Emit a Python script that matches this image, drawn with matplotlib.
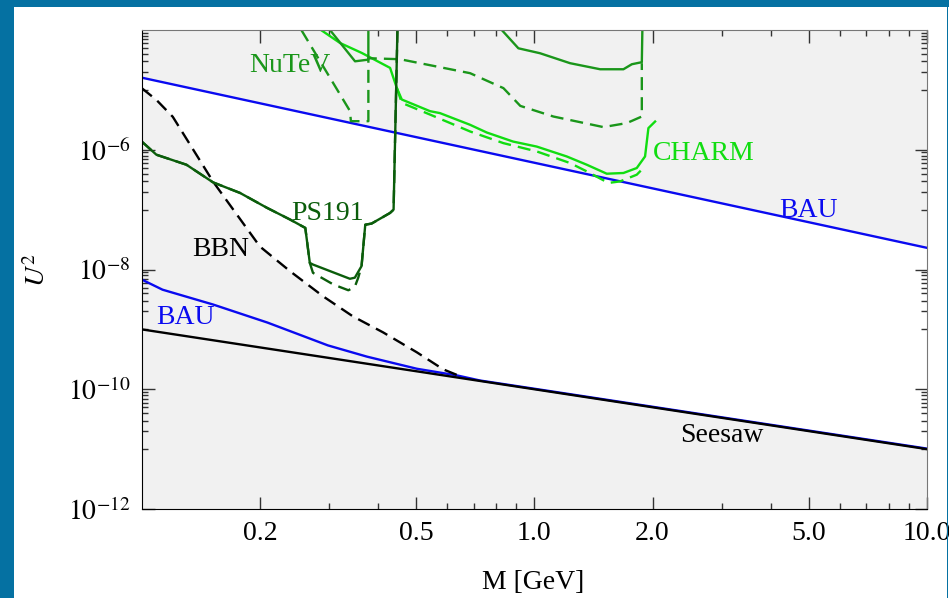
import numpy as np
import matplotlib.pyplot as plt
from matplotlib.patches import Rectangle
from matplotlib.ticker import NullFormatter

plt.rcParams['font.family'] = ['Liberation Serif', 'DejaVu Serif']
plt.rcParams['mathtext.fontset'] = 'stix'
plt.rcParams['font.size'] = 20

# --- data (M in GeV, U^2) ---
bau_up_m = [0.1, 10.0]
bau_up_u2 = [1.6e-5, 2.3e-8]

seesaw_m = [0.1, 10.0]
seesaw_u2 = [1e-9, 1e-11]

bau_low_m = [0.1, 0.113, 0.152, 0.209, 0.298, 0.375, 0.502, 0.636, 0.727, 1.0, 10.0]
bau_low_u2 = [6.8e-9, 4.6e-9, 2.6e-9, 1.3e-9, 5.4e-10, 3.5e-10, 2.2e-10, 1.7e-10,
              1.4e-10, 1.02e-10, 1.02e-11]

bbn_m = [0.1, 0.109, 0.120, 0.152, 0.200, 0.239, 0.290, 0.345, 0.412, 0.502, 0.586, 0.647]
bbn_u2 = [1.07e-5, 6.8e-6, 3.55e-6, 2.93e-7, 2.42e-8, 9.3e-9, 3.55e-9, 1.65e-9,
          8.9e-10, 4.14e-10, 2.15e-10, 1.65e-10]

ps191_m = [0.100, 0.109, 0.130, 0.152, 0.178, 0.208, 0.239, 0.261, 0.268, 0.273,
           0.339, 0.349, 0.363, 0.371, 0.385, 0.429, 0.438, 0.448]
ps191_u2 = [1.374e-6, 8.26e-7, 5.62e-7, 2.85e-7, 1.90e-7, 1.08e-7, 6.8e-8, 4.95e-8,
            1.29e-8, 1.21e-8, 7.0e-9, 7.3e-9, 1.14e-8, 5.6e-8, 5.85e-8, 8.8e-8, 1.0e-7, 1e-4]
ps191_ih_m = [0.100, 0.109, 0.130, 0.152, 0.178, 0.208, 0.239, 0.261, 0.268, 0.273,
              0.308, 0.336, 0.349, 0.356, 0.363, 0.371, 0.385, 0.429, 0.438, 0.448]
ps191_ih_u2 = [1.374e-6, 8.26e-7, 5.62e-7, 2.85e-7, 1.90e-7, 1.08e-7, 6.8e-8, 4.95e-8,
               1.29e-8, 8.8e-9, 5.6e-9, 4.5e-9, 5.15e-9, 7.3e-9, 1.14e-8, 5.6e-8,
               5.85e-8, 8.8e-8, 1.0e-7, 1e-4]

nutev_a_m = [0.2988, 0.3494, 0.3778, 0.3778]
nutev_a_u2 = [1.08e-4, 3.0e-5, 3.2e-5, 1.08e-4]
nutev_b_m = [0.826, 0.9105, 1.034, 1.233, 1.471, 1.686, 1.771, 1.878, 1.884]
nutev_b_u2 = [1.0e-4, 4.95e-5, 4.09e-5, 2.79e-5, 2.21e-5, 2.21e-5, 2.68e-5, 2.9e-5, 1.0e-4]
nutev_ih_m = [0.255, 0.3393, 0.341, 0.3778, 0.3778, 0.455, 0.686, 0.834, 0.921, 1.118,
              1.499, 1.72, 1.878, 1.878]
nutev_ih_u2 = [1.0e-4, 4.42e-6, 3.0e-6, 3.0e-6, 3.38e-5, 3.25e-5, 1.90e-5, 1.07e-5,
               5.4e-6, 3.59e-6, 2.39e-6, 2.79e-6, 3.59e-6, 2.79e-5]

charm_m = [0.2813, 0.3199, 0.3634, 0.4291, 0.4463, 0.4596, 0.5423, 0.575, 0.686, 0.7566,
           0.8827, 1.014, 1.209, 1.36, 1.529, 1.686, 1.823, 1.914, 1.952, 2.03]
charm_u2 = [1.08e-4, 6.07e-5, 4.14e-5, 2.33e-5, 1.08e-5, 6.9e-6, 4.41e-6, 4.09e-6,
            2.61e-6, 1.94e-6, 1.37e-6, 1.13e-6, 7.73e-7, 5.62e-7, 3.98e-7, 4.09e-7,
            4.95e-7, 7.73e-7, 2.3e-6, 2.96e-6]
charm_ih_m = [0.446, 0.4596, 0.5423, 0.686, 0.834, 1.014, 1.233, 1.36, 1.544, 1.653,
              1.823, 1.895]
charm_ih_u2 = [1.1e-5, 6.07e-6, 3.87e-6, 2.02e-6, 1.29e-6, 9.37e-7, 6.0e-7, 4.35e-7,
               2.79e-7, 2.96e-7, 3.83e-7, 4.95e-7]

xticks = [0.2, 0.5, 1.0, 2.0, 5.0, 10.0]
xtick_labels = ["0.2", "0.5", "1.0", "2.0", "5.0", "10.0"]
xminor = [0.3, 0.4, 0.6, 0.7, 0.8, 0.9, 3, 4, 6, 7, 8, 9]
yticks = [1e-12, 1e-10, 1e-8, 1e-6]
ytick_labels = [r"$10^{-12}$", r"$10^{-10}$", r"$10^{-8}$", r"$10^{-6}$"]
yminor = [k * 10.0**e for e in (-11, -9, -7, -5) for k in range(1, 10)]

BLUE = '#0a0af0'
PS_C = '#0b5d0b'
NU_C = '#1a961a'
CH_C = '#11dd11'

fig = plt.figure(figsize=(9.49, 5.98), dpi=100)
ax = fig.add_axes([0.14932, 0.14883, 0.82750, 0.80100])
ax.set_xscale('log')
ax.set_yscale('log')
ax.set_xlim(0.1, 10)
ax.set_ylim(1e-12, 1e-4)
ax.set_facecolor('#f1f1f1')

# allowed (white) region between the two BAU/BBN bounds
grid = np.logspace(-1, 1, 600)
lg = np.log10(grid)
upper = np.interp(lg, np.log10(bau_up_m), np.log10(bau_up_u2))
low_bau = np.interp(lg, np.log10(bau_low_m), np.log10(bau_low_u2))
low_bbn = np.interp(lg, np.log10(bbn_m), np.log10(bbn_u2), right=-np.inf)
lower = np.maximum(low_bau, low_bbn)
ax.fill_between(grid, 10**lower, 10**upper, color='white', lw=0, zorder=0.5)

lw = 1.7
dash = (5.5, 3)
ax.plot(bau_up_m, bau_up_u2, color=BLUE, lw=lw)
ax.plot(bau_low_m, bau_low_u2, color=BLUE, lw=lw)
ax.plot(seesaw_m, seesaw_u2, color='black', lw=lw)
ax.plot(bbn_m, bbn_u2, color='black', lw=lw, dashes=dash)

ax.plot(charm_m, charm_u2, color=CH_C, lw=lw)
ax.plot(charm_ih_m, charm_ih_u2, color=CH_C, lw=lw, dashes=dash)
ax.plot(nutev_a_m, nutev_a_u2, color=NU_C, lw=lw)
ax.plot(nutev_b_m, nutev_b_u2, color=NU_C, lw=lw)
ax.plot(nutev_ih_m, nutev_ih_u2, color=NU_C, lw=lw, dashes=dash)
ax.plot(ps191_ih_m, ps191_ih_u2, color=PS_C, lw=lw, dashes=dash)
ax.plot(ps191_m, ps191_u2, color=PS_C, lw=lw)

ax.text(0.2387, 2.0e-5, "NuTeV", color=NU_C, ha='center', va='baseline')
ax.text(0.2965, 6.8e-8, "PS191", color=PS_C, ha='center', va='baseline')
ax.text(0.1592, 1.65e-8, "BBN", color='black', ha='center', va='baseline')
ax.text(0.129, 1.21e-9, "BAU", color=BLUE, ha='center', va='baseline')
ax.text(2.706, 6.8e-7, "CHARM", color=CH_C, ha='center', va='baseline')
ax.text(4.98, 7.64e-8, "BAU", color=BLUE, ha='center', va='baseline')
ax.text(3.006, 1.31e-11, "Seesaw", color='black', ha='center', va='baseline')

ax.set_xticks(xticks, labels=xtick_labels)
ax.set_xticks(xminor, minor=True)
ax.xaxis.set_minor_formatter(NullFormatter())
ax.set_yticks(yticks, labels=ytick_labels)
ax.set_yticks(yminor, minor=True)
ax.yaxis.set_minor_formatter(NullFormatter())
ax.tick_params(which='both', direction='in', top=True, right=True, width=1, color='#333333')
ax.tick_params(which='major', length=9, labelsize=20)
ax.tick_params(which='minor', length=4.5)
ax.tick_params(axis='x', which='major', pad=9)
ax.tick_params(axis='y', which='major', pad=8)

for side in ('top', 'right'):
    ax.spines[side].set_color('#777777')
for side in ('left', 'bottom'):
    ax.spines[side].set_color('black')

ax.set_xlabel("M [GeV]", fontsize=20)
ax.xaxis.set_label_coords(0.498, -0.128)
ax.set_ylabel(r"$U^2$", fontsize=20)
ax.yaxis.set_label_coords(-0.116, 0.5)

# blue slide frame
frame_c = '#0571a2'
fig.add_artist(Rectangle((0, 0), 14 / 949, 1, transform=fig.transFigure,
                         color=frame_c, lw=0, zorder=10))
fig.add_artist(Rectangle((0, 1 - 7 / 598), 1, 7 / 598, transform=fig.transFigure,
                         color=frame_c, lw=0, zorder=10))
fig.add_artist(Rectangle((946.5 / 949, 0), 1.8 / 949, 1, transform=fig.transFigure,
                         color=frame_c, lw=0, zorder=10))

fig.savefig("out.png", dpi=100)
